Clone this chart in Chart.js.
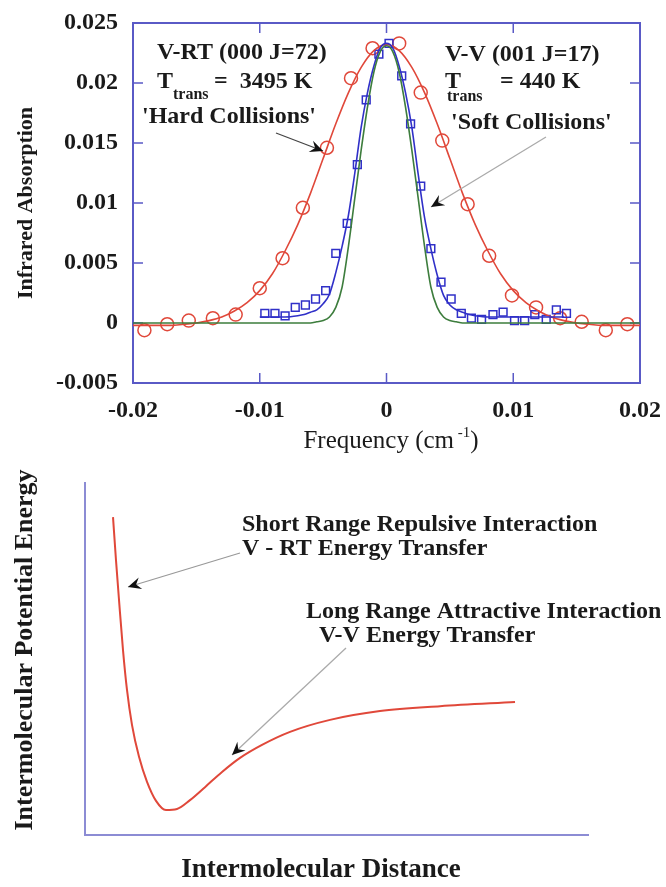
<!DOCTYPE html>
<html>
<head>
<meta charset="utf-8">
<script src="https://cdn.jsdelivr.net/npm/chart.js@4.4.1/dist/chart.umd.min.js"></script>
<style>
  html, body { margin:0; padding:0; background:#fff; }
  #wrap { position:relative; width:666px; height:887px; }
  #top { position:absolute; left:0; top:0; }
  #bot { position:absolute; left:0; top:460px; }
</style>
</head>
<body>
<div id="wrap">
  <canvas id="top" width="666" height="460"></canvas>
  <canvas id="bot" width="666" height="427"></canvas>
</div>
<script>
// ---- axes
const freqTicks      = [-0.02, -0.01, 0, 0.01, 0.02];
const freqTickLabels = ['-0.02', '-0.01', '0', '0.01', '0.02'];
const absTicks       = [-0.005, 0, 0.005, 0.01, 0.015, 0.02, 0.025];
const absTickLabels  = ['-0.005', '0', '0.005', '0.01', '0.015', '0.02', '0.025'];

// ---- V-RT (hard collisions) : circles + fit
const hardX = [-0.0191,-0.0173,-0.0156,-0.0137,-0.0119,-0.0100,-0.0082,-0.0066,-0.0047,-0.0028,-0.0011,
               0.0010, 0.0027, 0.0044, 0.0064, 0.0081, 0.0099, 0.0118, 0.0137, 0.0154, 0.0173, 0.0190];
const hardY = [-0.0006,-0.0001, 0.0002, 0.0004, 0.0007, 0.0029, 0.0054, 0.0096, 0.0146, 0.0204, 0.0229,
               0.0233, 0.0192, 0.0152, 0.0099, 0.0056, 0.0023, 0.0013, 0.0004, 0.0001,-0.0006,-0.0001];
const hardFitX = [-0.020,-0.019,-0.018,-0.017,-0.016,-0.015,-0.014,-0.013,-0.012,-0.011,-0.010,
                  -0.009,-0.008,-0.007,-0.006,-0.005,-0.004,-0.003,-0.002,-0.001, 0,
                   0.001, 0.002, 0.003, 0.004, 0.005, 0.006, 0.007, 0.008, 0.009, 0.010,
                   0.011, 0.012, 0.013, 0.014, 0.015, 0.016, 0.017, 0.018, 0.019, 0.020];
const hardFitY = [-0.0002,-0.0002,-0.0002,-0.0002,-0.0001, 0.0000, 0.0002, 0.0005, 0.0010, 0.0017, 0.0027,
                   0.0041, 0.0060, 0.0082, 0.0108, 0.0137, 0.0166, 0.0192, 0.0213, 0.0227, 0.0232,
                   0.0227, 0.0213, 0.0192, 0.0166, 0.0137, 0.0108, 0.0082, 0.0060, 0.0041, 0.0027,
                   0.0017, 0.0010, 0.0005, 0.0002, 0.0000,-0.0001,-0.0002,-0.0002,-0.0002,-0.0002];

// ---- V-V (soft collisions) : squares + fit
const softX = [-0.0096,-0.0088,-0.0080,-0.0072,-0.0064,-0.0056,-0.0048,-0.0040,-0.0031,-0.0023,-0.0016,-0.0006,
                0.0002, 0.0012, 0.0019, 0.0027, 0.0035, 0.0043, 0.0051, 0.0059, 0.0067, 0.0075, 0.0084, 0.0092,
                0.0101, 0.0109, 0.0117, 0.0126, 0.0134, 0.0142];
const softY = [ 0.0008, 0.0008, 0.0006, 0.0013, 0.0015, 0.0020, 0.0027, 0.0058, 0.0083, 0.0132, 0.0186, 0.0224,
                0.0233, 0.0206, 0.0166, 0.0114, 0.0062, 0.0034, 0.0020, 0.0008, 0.0004, 0.0003, 0.0007, 0.0009,
                0.0002, 0.0002, 0.0007, 0.0003, 0.0011, 0.0008];
const softFitX = [-0.0100,-0.0090,-0.0080,-0.0070,-0.0065,-0.0060,-0.0055,-0.0050,-0.0045,-0.0040,-0.0035,
                  -0.0030,-0.0025,-0.0020,-0.0015,-0.0010,-0.0005, 0,
                   0.0005, 0.0010, 0.0015, 0.0020, 0.0025, 0.0030, 0.0035, 0.0040, 0.0045, 0.0050,
                   0.0055, 0.0060, 0.0065, 0.0070, 0.0080, 0.0090, 0.0100, 0.0120, 0.0140];
const softFitY = [ 0.0005, 0.0005, 0.0005, 0.0006, 0.0007, 0.0009, 0.0011, 0.0016, 0.0024, 0.0042, 0.0064,
                   0.0090, 0.0125, 0.0163, 0.0192, 0.0214, 0.0229, 0.0233,
                   0.0229, 0.0214, 0.0192, 0.0163, 0.0124, 0.0088, 0.0062, 0.0040, 0.0023, 0.0015,
                   0.0011, 0.0009, 0.0007, 0.0006, 0.0005, 0.0005, 0.0005, 0.0005, 0.0005];

// ---- thermal (green) profile
const thermX = [-0.020,-0.010,-0.0070,-0.0060,-0.0055,-0.0050,-0.0045,-0.0040,-0.0035,-0.0030,-0.0025,
                -0.0020,-0.0015,-0.0010,-0.0005, 0,
                 0.0005, 0.0010, 0.0015, 0.0020, 0.0025, 0.0030, 0.0035, 0.0040, 0.0045, 0.0050,
                 0.0055, 0.0060, 0.0070, 0.010, 0.020];
const thermY = [ 0, 0, 0, 0, 0.0001, 0.0002, 0.0005, 0.0013, 0.0030, 0.0064, 0.0104,
                 0.0144, 0.0180, 0.0209, 0.0226, 0.0231,
                 0.0226, 0.0209, 0.0180, 0.0144, 0.0104, 0.0064, 0.0030, 0.0013, 0.0005, 0.0002,
                 0.0001, 0, 0, 0, 0];

// ---- potential energy curve (arbitrary units)
const distX   = [0.557, 0.616, 0.676, 0.755, 0.835, 0.934, 1.074, 1.233, 1.412, 1.610, 1.829,
                 2.087, 2.386, 2.724, 3.082, 3.519, 4.076, 4.871, 5.865, 7.058, 8.549];
const energyY = [9.03, 7.81, 6.68, 5.26, 4.12, 3.13, 2.22, 1.51, 0.97, 0.71, 0.74,
                 0.99, 1.36, 1.79, 2.19, 2.56, 2.93, 3.27, 3.52, 3.66, 3.78];

const RED = '#e0483a', BLUE = '#3030c8', GREEN = '#3d7d3d';
const FRAME = '#5a5ac6', FRAME2 = '#8c8cd4';
const SERIF = "'Liberation Serif', 'Times New Roman', serif";
const pts = (xs, ys) => xs.map((x, i) => ({ x, y: ys[i] }));

function arrow(ctx, x1, y1, x2, y2, col){
  ctx.save();
  ctx.strokeStyle = col; ctx.lineWidth = 1.3;
  ctx.beginPath(); ctx.moveTo(x1, y1); ctx.lineTo(x2, y2); ctx.stroke();
  const a = Math.atan2(y2 - y1, x2 - x1), L = 13, W = 6;
  const bx = x2 - Math.cos(a) * L, by = y2 - Math.sin(a) * L;
  const nx = x2 - Math.cos(a) * L * 0.65, ny = y2 - Math.sin(a) * L * 0.65;
  ctx.fillStyle = '#111';
  ctx.beginPath();
  ctx.moveTo(x2, y2);
  ctx.lineTo(bx - Math.sin(a) * W, by + Math.cos(a) * W);
  ctx.lineTo(nx, ny);
  ctx.lineTo(bx + Math.sin(a) * W, by - Math.cos(a) * W);
  ctx.closePath(); ctx.fill();
  ctx.restore();
}

function txt(ctx, s, x, y, size, weight='bold', align='left'){
  ctx.font = `${weight} ${size}px ${SERIF}`;
  ctx.textAlign = align; ctx.textBaseline = 'middle';
  ctx.fillText(s, x, y);
}

// frame + inner ticks of the spectrum
const frame = {
  id:'frame',
  beforeDatasetsDraw(c){
    const {ctx, chartArea:a, scales:{x, y}} = c;
    ctx.save();
    ctx.strokeStyle = FRAME; ctx.lineWidth = 2;
    ctx.strokeRect(a.left, a.top, a.right - a.left, a.bottom - a.top);
    ctx.lineWidth = 1.5;
    ctx.beginPath();
    freqTicks.forEach(v => {
      const px = x.getPixelForValue(v);
      ctx.moveTo(px, a.top); ctx.lineTo(px, a.top + 10);
      ctx.moveTo(px, a.bottom); ctx.lineTo(px, a.bottom - 10);
    });
    absTicks.forEach(v => {
      const py = y.getPixelForValue(v);
      ctx.moveTo(a.left, py); ctx.lineTo(a.left + 10, py);
      ctx.moveTo(a.right, py); ctx.lineTo(a.right - 10, py);
    });
    ctx.stroke();
    ctx.restore();
  },
  afterDraw(c){
    const ctx = c.ctx;
    ctx.save();
    ctx.fillStyle = '#1a1a1a';
    // left block
    txt(ctx, 'V-RT (000 J=72)', 157, 53, 24);
    txt(ctx, 'T', 157, 82, 24);
    txt(ctx, 'trans', 173, 95, 16);
    txt(ctx, '=  3495 K', 214, 82, 24);
    txt(ctx, "'Hard Collisions'", 142, 117, 24);
    // right block
    txt(ctx, 'V-V (001 J=17)', 445, 55, 24);
    txt(ctx, 'T', 445, 82, 24);
    txt(ctx, 'trans', 447, 97, 16);
    txt(ctx, '= 440 K', 500, 82, 24);
    txt(ctx, "'Soft Collisions'", 451, 123, 24);
    arrow(ctx, 276, 133, 323, 151, '#444');
    arrow(ctx, 546, 137, 431, 207, '#aaa');
    // axis titles
    ctx.save();
    ctx.translate(26, 203); ctx.rotate(-Math.PI / 2);
    txt(ctx, 'Infrared Absorption', 0, 0, 22, 'bold', 'center');
    ctx.restore();
    ctx.font = `normal 25px ${SERIF}`;
    const a1 = 'Frequency (cm', sup = ' -1', a2 = ')';
    const w1 = ctx.measureText(a1).width, w3 = ctx.measureText(a2).width;
    ctx.font = `normal 15px ${SERIF}`;
    const w2 = ctx.measureText(sup).width;
    let x0 = 391 - (w1 + w2 + w3) / 2;
    txt(ctx, a1, x0, 441, 25, 'normal');
    txt(ctx, sup, x0 + w1, 433, 15, 'normal');
    txt(ctx, a2, x0 + w1 + w2, 441, 25, 'normal');
    ctx.restore();
  }
};

const tickFont = { family: SERIF, size: 24, weight: 'bold' };

new Chart(document.getElementById('top'), {
  type: 'scatter',
  data: {
    datasets: [
      { data: pts(thermX, thermY), showLine: true, pointRadius: 0, borderColor: GREEN, borderWidth: 1.6,
        cubicInterpolationMode: 'monotone' },
      { data: pts(softFitX, softFitY), showLine: true, pointRadius: 0, borderColor: BLUE, borderWidth: 1.6,
        cubicInterpolationMode: 'monotone' },
      { data: pts(hardFitX, hardFitY), showLine: true, pointRadius: 0, borderColor: RED, borderWidth: 1.6,
        cubicInterpolationMode: 'monotone' },
      { data: pts(softX, softY), pointStyle: 'rect', pointRadius: 5.5, borderColor: BLUE,
        backgroundColor: 'rgba(0,0,0,0)', borderWidth: 1.5 },
      { data: pts(hardX, hardY), pointStyle: 'circle', pointRadius: 6.5, borderColor: RED,
        backgroundColor: 'rgba(0,0,0,0)', borderWidth: 1.5 }
    ]
  },
  options: {
    responsive: false, animation: false,
    layout: { padding: { left: 0, top: 23, right: 26, bottom: 0 } },
    plugins: { legend: { display: false }, tooltip: { enabled: false } },
    scales: {
      x: {
        type: 'linear', min: -0.02, max: 0.02,
        afterBuildTicks: s => { s.ticks = freqTicks.map(v => ({ value: v })); },
        afterFit: s => { s.height = 77; s.paddingLeft = 0; s.paddingRight = 0; },
        grid: { display: false, drawTicks: false }, border: { display: false },
        ticks: { font: tickFont, color: '#1a1a1a', padding: 13, maxRotation: 0,
                 callback: (v, i) => freqTickLabels[i] }
      },
      y: {
        min: -0.005, max: 0.025,
        afterBuildTicks: s => { s.ticks = absTicks.map(v => ({ value: v })); },
        afterFit: s => { s.width = 133; s.paddingTop = 0; s.paddingBottom = 0; },
        grid: { display: false, drawTicks: false }, border: { display: false },
        ticks: { font: tickFont, color: '#1a1a1a', padding: 15,
                 callback: (v, i) => absTickLabels[i] }
      }
    }
  },
  plugins: [frame]
});

// ---- potential energy sketch
const potLabels = {
  id:'potLabels',
  afterDraw(c){
    const ctx = c.ctx, o = 460;
    ctx.save();
    ctx.fillStyle = '#1a1a1a';
    txt(ctx, 'Short Range Repulsive Interaction', 242, 525 - o, 24);
    txt(ctx, 'V - RT Energy Transfer', 242, 549 - o, 24);
    txt(ctx, 'Long Range Attractive Interaction', 306, 612 - o, 24);
    txt(ctx, 'V-V Energy Transfer', 319, 636 - o, 24);
    arrow(ctx, 240, 553 - o, 128, 587 - o, '#999');
    arrow(ctx, 346, 648 - o, 232, 755 - o, '#aaa');
    ctx.save();
    ctx.translate(25, 650 - o); ctx.rotate(-Math.PI / 2);
    txt(ctx, 'Intermolecular Potential Energy', 0, 0, 26, 'bold', 'center');
    ctx.restore();
    txt(ctx, 'Intermolecular Distance', 321, 870 - o, 27, 'bold', 'center');
    ctx.restore();
  }
};

new Chart(document.getElementById('bot'), {
  type: 'scatter',
  data: {
    datasets: [
      { data: pts(distX, energyY), showLine: true, pointRadius: 0, borderColor: RED, borderWidth: 2,
        cubicInterpolationMode: 'monotone' }
    ]
  },
  options: {
    responsive: false, animation: false,
    layout: { padding: { left: 0, top: 23, right: 78, bottom: 0 } },
    plugins: { legend: { display: false }, tooltip: { enabled: false } },
    scales: {
      x: { type: 'linear', min: 0, max: 10,
           afterFit: s => { s.height = 52; s.paddingLeft = 0; s.paddingRight = 0; },
           grid: { display: false }, ticks: { display: false },
           border: { display: true, color: FRAME2, width: 2 } },
      y: { min: 0, max: 10,
           afterFit: s => { s.width = 85; s.paddingTop = 0; s.paddingBottom = 0; },
           grid: { display: false }, ticks: { display: false },
           border: { display: true, color: FRAME2, width: 2 } }
    }
  },
  plugins: [potLabels]
});
</script>
</body>
</html>
